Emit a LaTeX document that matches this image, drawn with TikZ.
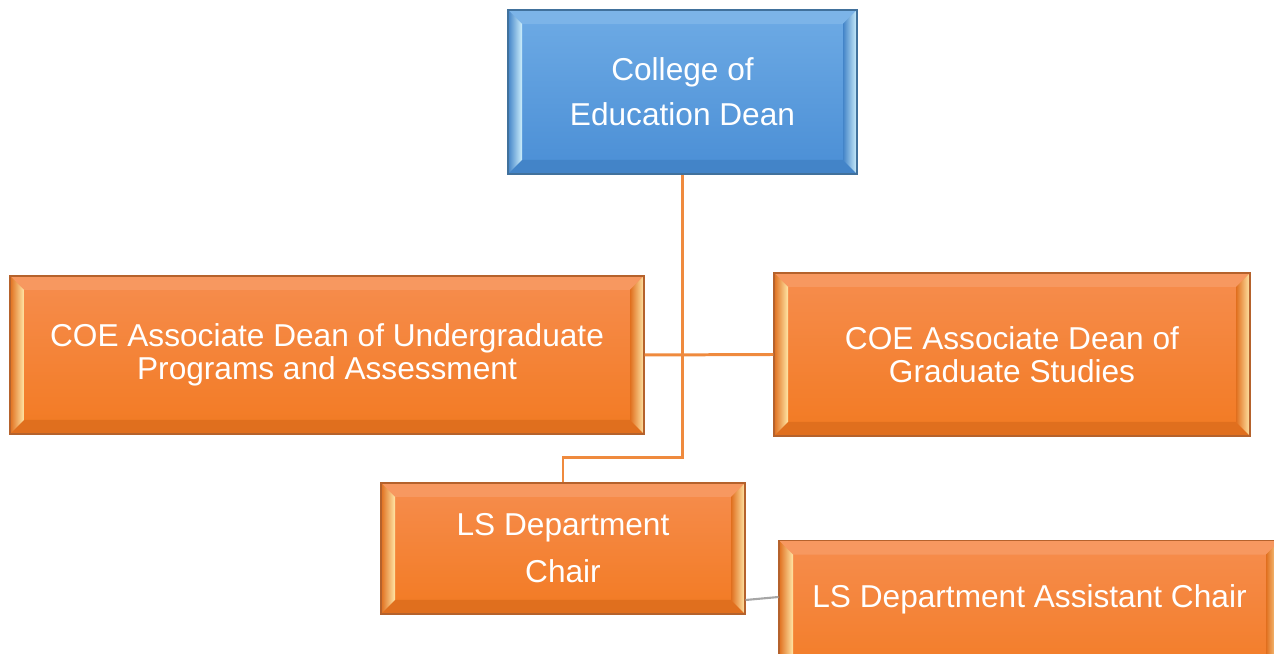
\documentclass[tikz,border=0pt]{standalone}
\usepackage{fontspec}
\setmainfont{Liberation Sans}
\usetikzlibrary{calc}
\usetikzlibrary{positioning}

\definecolor{deanTop}{HTML}{6EABE5}
\definecolor{deanBot}{HTML}{4A8ED5}
\definecolor{deanEdge}{HTML}{41719C}
\definecolor{deanLite}{HTML}{CDEFFC}
\definecolor{deanDark}{HTML}{4384C8}
\definecolor{orgTop}{HTML}{F68D4E}
\definecolor{orgBot}{HTML}{F27A22}
\definecolor{orgEdge}{HTML}{B5622C}
\definecolor{orgLite}{HTML}{FFE6A6}
\definecolor{orgDark}{HTML}{E06F1E}
\definecolor{linkOrg}{HTML}{EF8A3E}
\definecolor{linkGray}{HTML}{A6A6A6}

% bevelled rim inside a box: #1 face, #2 light rim, #3 dark rim
\def\bev{0.28}
\newcommand{\bevelbox}[3]{%
  \coordinate (p1) at (path picture bounding box.south west);
  \coordinate (p3) at (path picture bounding box.north east);
  \coordinate (p2) at (p1 |- p3);
  \coordinate (p4) at (p3 |- p1);
  \fill[#1!90!white] (p2) -- (p3) -- ($(p3)+(-\bev,-\bev)$) -- ($(p2)+(\bev,-\bev)$) -- cycle;
  \fill[#3] (p1) -- (p4) -- ($(p4)+(-\bev,\bev)$) -- ($(p1)+(\bev,\bev)$) -- cycle;
  \shade[left color=#3, right color=#2] (p1) -- (p2) -- ($(p2)+(\bev,-\bev)$) -- ($(p1)+(\bev,\bev)$) -- cycle;
  \shade[left color=#3, right color=#2] (p4) -- (p3) -- ($(p3)+(-\bev,-\bev)$) -- ($(p4)+(-\bev,\bev)$) -- cycle;
}

\begin{document}
\begin{tikzpicture}
    \tikzstyle{unit}=[draw=orgEdge, line width=0.6pt, top color=orgTop, bottom color=orgBot,
      text=white, align=center, inner sep=0pt, font=\fontsize{18}{19}\selectfont,
      path picture={\bevelbox{orgTop}{orgLite}{orgDark}}];
    \tikzstyle{head}=[unit, draw=deanEdge, top color=deanTop, bottom color=deanBot,
      path picture={\bevelbox{deanTop}{deanLite}{deanDark}}];
    \tikzstyle{link}=[draw=linkOrg, line width=1.7pt];
    \useasboundingbox (0,0) rectangle (25.48,13.08);
    \clip (0,0) rectangle (25.48,13.08);

    % boxes
    \node[head, minimum width=6.98cm, minimum height=3.28cm] (dean) at (13.65,11.24)
      {College of\\[6.6pt]Education Dean};
    \node[unit, minimum width=12.68cm, minimum height=3.16cm] (ugrad) at (6.54,5.98)
      {COE Associate Dean of Undergraduate\\Programs and Assessment};
    \node[unit, minimum width=9.52cm, minimum height=3.26cm] (grad) at (20.24,5.99)
      {COE Associate Dean of\\Graduate Studies};
    \node[unit, minimum width=7.28cm, minimum height=2.62cm] (chair) at (11.26,2.11)
      {LS Department\\[7.7pt]Chair};
    % runs off the lower edge
    \node[unit, anchor=north, minimum width=10.02cm, minimum height=3cm, text depth=0.77cm]
      (asst) at (20.59,2.28) {LS Department Assistant Chair};

    % connectors
    \coordinate (bend) at (dean.south |- 0,3.92);
    \draw[link] (dean.south) -- (bend) -| (chair.north);
    \draw[link] (ugrad.east) -- (grad.west);
    \draw[draw=linkGray, line width=1.2pt] (chair.east |- 0,1.08) -- (asst.west |- 0,1.14);
  \end{tikzpicture}
\end{document}
